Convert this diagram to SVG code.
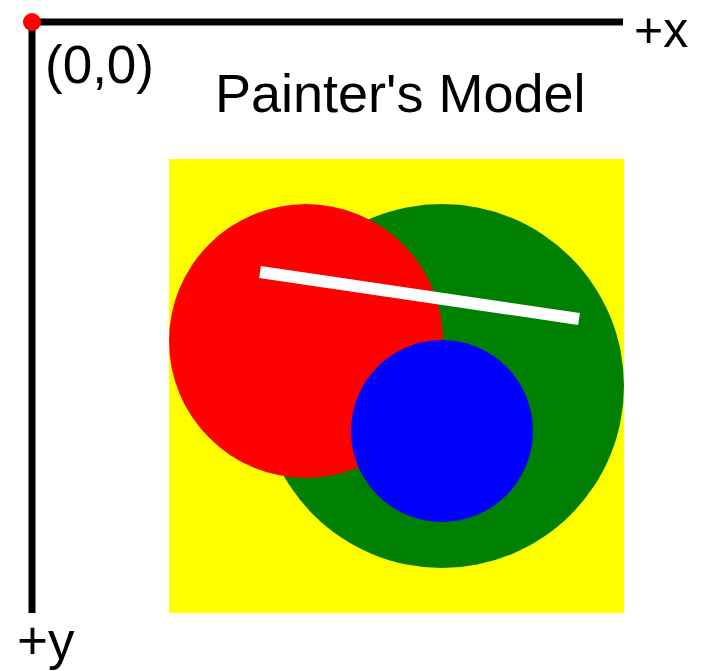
<svg xmlns="http://www.w3.org/2000/svg" width="706" height="671" viewBox="0 0 706 671">
<style>
text{font-family:"Liberation Sans",Arial,sans-serif;font-size:53px;fill:#000}
.axis{stroke:#000;stroke-width:7;fill:none}
</style>
<rect width="706" height="671" fill="#fff"/>
<g id="axes">
<line class="axis" x1="32" y1="22" x2="623" y2="22"/>
<line class="axis" x1="32" y1="22" x2="32" y2="613"/>
<circle cx="32" cy="22" r="9" fill="#f00"/>
<text x="634" y="47" style="font-size:50px">+x</text>
<text x="17" y="659">+y</text>
<text x="45" y="83">(0,0)</text>
</g>
<text id="title" x="215" y="112" style="font-size:54px">Painter's Model</text>
<g id="scene">
<rect id="yellow" x="169" y="159" width="455" height="454" fill="#ff0"/>
<circle id="green" cx="442" cy="386" r="182" fill="#008000"/>
<circle id="red" cx="306" cy="341" r="137" fill="#f00"/>
<circle id="blue" cx="442" cy="431" r="91" fill="#00f"/>
<line id="white" x1="260" y1="272" x2="579" y2="319" stroke="#fff" stroke-width="12"/>
</g>
</svg>
